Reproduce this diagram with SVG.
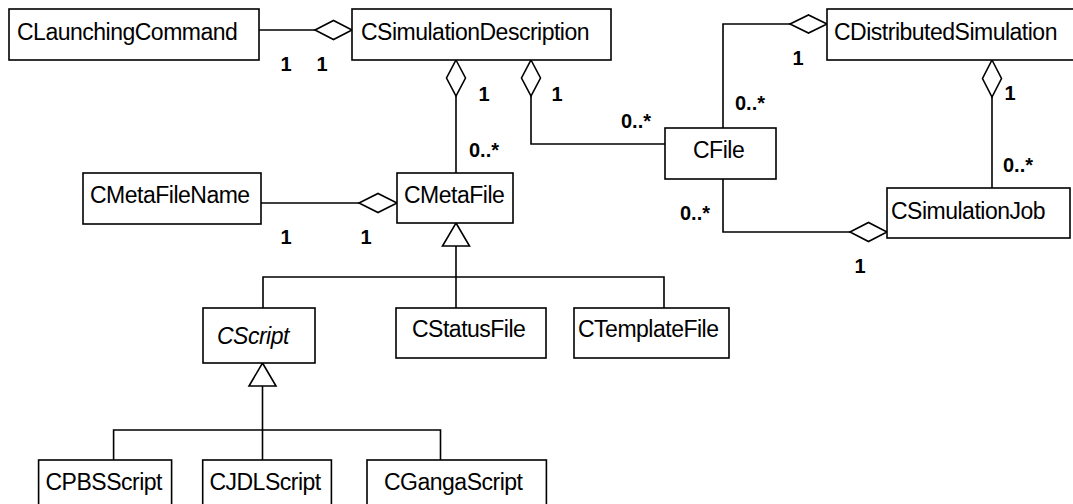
<svg xmlns="http://www.w3.org/2000/svg" width="1073" height="504" viewBox="0 0 1073 504">
<style>
.box{fill:#fff;stroke:#000;stroke-width:1.6}
.t{font-family:"Liberation Sans",Arial,sans-serif;font-size:23px;letter-spacing:-0.5px;fill:#000}
.i{font-style:italic}
.m{font-family:"Liberation Sans",Arial,sans-serif;font-size:20px;font-weight:bold;fill:#000;text-anchor:middle}
.ln{fill:none;stroke:#000;stroke-width:1.6}
.dia{fill:#fff;stroke:#000;stroke-width:1.6}
</style>
<rect width="1073" height="504" fill="#fff"/>
<g id="connectors">
<polyline class="ln" points="259,30 315,30"/>
<polygon class="dia" points="315,30 333.5,20.5 352,30 333.5,39.5"/>
<polyline class="ln" points="456,96 456,173"/>
<polygon class="dia" points="456,60 465.5,78 456,96 446.5,78"/>
<polyline class="ln" points="531,96 531,144 665,144"/>
<polygon class="dia" points="531,60 540.5,78 531,96 521.5,78"/>
<polyline class="ln" points="790,24 723,24 723,128"/>
<polygon class="dia" points="790,24 808.5,15 827,24 808.5,33"/>
<polyline class="ln" points="992,97 992,188"/>
<polygon class="dia" points="992,60 1001.5,78.5 992,97 982.5,78.5"/>
<polyline class="ln" points="723,179 723,232 850,232"/>
<polygon class="dia" points="850,232 868.5,222.5 887,232 868.5,241.5"/>
<polyline class="ln" points="261,203 359,203"/>
<polygon class="dia" points="359,203 378,193.5 397,203 378,212.5"/>
<polyline class="ln" points="456,246 456,277"/>
<polyline class="ln" points="263,308 263,277 664,277 664,308"/>
<polyline class="ln" points="456,277 456,308"/>
<polygon class="dia" points="456,223 469.5,246 442.5,246"/>
<polyline class="ln" points="262.5,386 262.5,430"/>
<polyline class="ln" points="113.6,460 113.6,430 440.5,430 440.5,460"/>
<polyline class="ln" points="262.5,430 262.5,460"/>
<polygon class="dia" points="262.5,363 276,386 249,386"/>
<text class="m" x="286" y="71">1</text>
<text class="m" x="322" y="71">1</text>
<text class="m" x="484" y="101">1</text>
<text class="m" x="557" y="101">1</text>
<text class="m" x="484" y="157">0..*</text>
<text class="m" x="636" y="128">0..*</text>
<text class="m" x="798" y="65">1</text>
<text class="m" x="750" y="110">0..*</text>
<text class="m" x="1010" y="100">1</text>
<text class="m" x="1018" y="172">0..*</text>
<text class="m" x="860" y="273">1</text>
<text class="m" x="695" y="220">0..*</text>
<text class="m" x="286" y="244">1</text>
<text class="m" x="366" y="244">1</text>
</g>
<g id="CLaunchingCommand"><rect class="box" x="9" y="9" width="250" height="51"/><text class="t" x="17" y="40">CLaunchingCommand</text></g>
<g id="CSimulationDescription"><rect class="box" x="352" y="9" width="259" height="51"/><text class="t" x="361" y="40">CSimulationDescription</text></g>
<g id="CDistributedSimulation"><rect class="box" x="827" y="9" width="260" height="51"/><text class="t" x="834" y="40">CDistributedSimulation</text></g>
<g id="CFile"><rect class="box" x="665" y="128" width="111" height="51"/><text class="t" x="693" y="158">CFile</text></g>
<g id="CMetaFileName"><rect class="box" x="83" y="173" width="178" height="51"/><text class="t" x="90" y="203">CMetaFileName</text></g>
<g id="CMetaFile"><rect class="box" x="397" y="173" width="116" height="50"/><text class="t" x="404" y="203">CMetaFile</text></g>
<g id="CSimulationJob"><rect class="box" x="887" y="188" width="183" height="50"/><text class="t" x="891" y="219">CSimulationJob</text></g>
<g id="CScript"><rect class="box" x="203" y="308" width="112" height="55"/><text class="t i" x="217" y="344">CScript</text></g>
<g id="CStatusFile"><rect class="box" x="396" y="308" width="150" height="50"/><text class="t" x="412" y="337">CStatusFile</text></g>
<g id="CTemplateFile"><rect class="box" x="574" y="308" width="155" height="50"/><text class="t" x="578" y="337">CTemplateFile</text></g>
<g id="CPBSScript"><rect class="box" x="38.6" y="460" width="133" height="60"/><text class="t" x="45.5" y="490">CPBSScript</text></g>
<g id="CJDLScript"><rect class="box" x="202.7" y="460" width="128.7" height="60"/><text class="t" x="209.4" y="490">CJDLScript</text></g>
<g id="CGangaScript"><rect class="box" x="367" y="460" width="179.4" height="60"/><text class="t" x="384" y="490">CGangaScript</text></g>
</svg>
